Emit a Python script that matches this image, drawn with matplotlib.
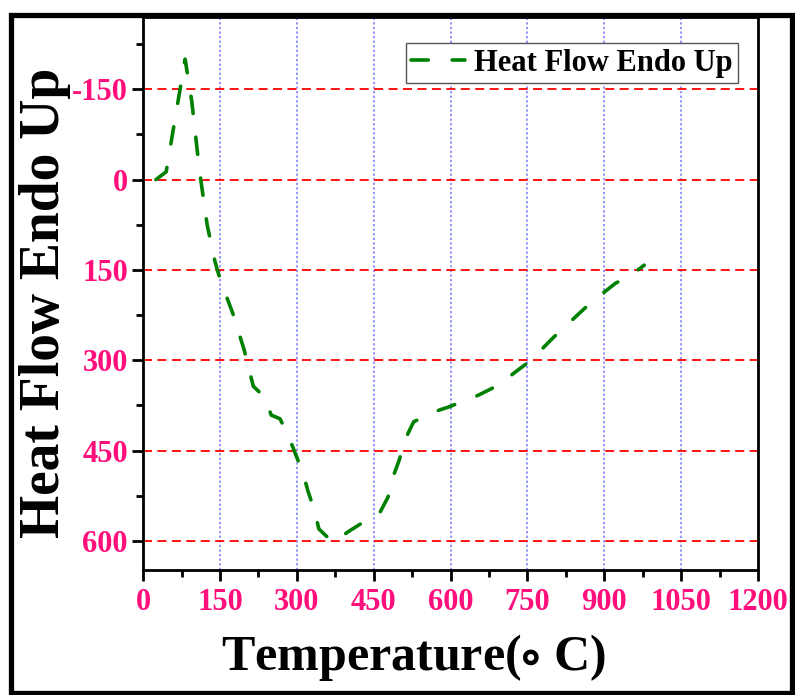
"""
DSC curve: heat flow (endo up) vs temperature.
"""

import matplotlib

matplotlib.use("Agg")
import matplotlib.pyplot as plt
from matplotlib.patches import Rectangle
from matplotlib.ticker import MultipleLocator

plt.rcParams["font.family"] = ["Liberation Serif", "DejaVu Serif"]
plt.rcParams["font.weight"] = "bold"
plt.rcParams["mathtext.fontset"] = "stix"
plt.rcParams["axes.unicode_minus"] = False

# --- data ---
temperature = [
    25, 45, 82, 95, 110, 125, 140, 150, 175, 197, 215, 237, 250, 267, 283,
    298, 312, 322, 334, 343, 370, 405, 435, 462, 478, 488, 500, 511, 528,
    545, 566, 598, 624, 654, 680, 702, 724, 752, 774, 802, 825, 846, 869,
    898, 922, 953, 978,
]
heat_flow = [
    0, -13, -200, -130, -15, 75, 135, 165, 222, 282, 343, 361, 391, 397, 424,
    457, 487, 518, 548, 580, 602, 582, 566, 553, 527, 493, 465, 432, 402,
    395, 386, 377, 368, 358, 347, 336, 321, 303, 285, 261, 243, 226, 208,
    188, 172, 158, 142,
]
series_label = "Heat Flow Endo Up"
x_ticks = [0, 150, 300, 450, 600, 750, 900, 1050, 1200]
y_ticks = [-150, 0, 150, 300, 450, 600]

PINK = "#FF0F7B"

fig = plt.figure(figsize=(7.95, 6.95), dpi=100)
ax = fig.add_axes([0.180, 0.180, 0.7735, 0.7955])

ax.plot(temperature, heat_flow, color="#008000", lw=2.6,
        linestyle=(0, (4.8, 6.6)), dash_capstyle="round",
        label=series_label, zorder=3)

ax.set_xlim(0, 1200)
ax.set_ylim(648, -270)  # endo up: axis runs downward

ax.set_xticks(x_ticks)
ax.set_yticks(y_ticks)
ax.xaxis.set_minor_locator(MultipleLocator(75))
ax.yaxis.set_minor_locator(MultipleLocator(75))

ax.grid(True, axis="y", which="major", color="red", ls=(0, (5, 3)), lw=1.3)
ax.grid(True, axis="x", which="major", color="#7777FF", ls=(0, (1.5, 1.5)), lw=1.1)

ax.tick_params(which="major", direction="out", length=8, width=2,
               labelsize=22, labelcolor=PINK, pad=3)
ax.tick_params(which="minor", direction="out", length=5, width=2)
ax.tick_params(axis="x", which="major", pad=5)
for lab in ax.get_xticklabels() + ax.get_yticklabels():
    lab.set_fontweight("bold")

for side in ("left", "bottom", "right", "top"):
    ax.spines[side].set_linewidth(2)

ax.set_xlabel(r"Temperature($\circ$ C)", fontsize=36, fontweight="bold")
ax.set_ylabel("Heat Flow Endo Up", fontsize=40, fontweight="bold")
ax.xaxis.set_label_coords(0.44, -0.112)
ax.yaxis.set_label_coords(-0.117, 0.483)

leg = ax.legend(loc="upper right", bbox_to_anchor=(0.9675, 0.953),
                borderaxespad=0, fancybox=False, framealpha=1,
                edgecolor="#555555", handlelength=1.75, handletextpad=0.3,
                borderpad=0.18, prop={"weight": "bold", "size": 22})
leg.get_frame().set_linewidth(1.0)

# heavy frame round the whole figure
fig.patches.append(Rectangle((0.0138, 0.0029), 0.9825, 0.9762, transform=fig.transFigure,
                             fill=False, edgecolor="black", lw=3.8))

fig.savefig("out.png", dpi=100)
